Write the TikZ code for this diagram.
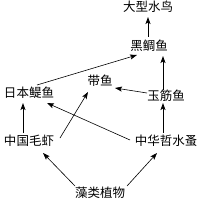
\documentclass[tikz,border=0pt]{standalone}
\usepackage{fontspec}
\newfontfamily\cjk{Noto Sans CJK SC}
\usetikzlibrary{arrows.meta,calc}
\begin{document}
\begin{tikzpicture}[x=1pt,y=-1pt,
  lbl/.style={font=\cjk\fontsize{12.5}{14}\selectfont,inner sep=0pt,text height=0.88em,text depth=0.12em,anchor=center},
  arr/.style={-{Stealth[length=7pt,width=5pt,inset=1.5pt]},line width=0.6pt},
  varr/.style={arr,line width=1pt}]
\useasboundingbox[fill=white] (0,0) rectangle (203,203);
\node[lbl] (B) at (148,8) {大型水鸟};
\node[lbl] (H) at (149,47) {黑鲷鱼};
\node[lbl] (D) at (100,82) {带鱼};
\node[lbl] (Y) at (166,97) {玉筋鱼};
\node[lbl] (R) at (29,94) {日本鳀鱼};
\node[lbl] (M) at (29,142) {中国毛虾};
\node[lbl] (S) at (166,142) {中华哲水蚤};
\node[lbl] (Z) at (100,194) {藻类植物};
\draw[varr] ($(M)+(-6,-9)$) -- ($(R)+(-6,9)$);
\draw[arr] ($(R)+(8,-9)$) -- ($(H)+(-12,8)$);
\draw[arr] ($(Y)+(-19,-4)$) -- ($(D)+(15,6)$);
\draw[varr] ($(Y)+(-3,-7)$) -- ($(H)+(14,9)$);
\draw[varr] ($(H)+(-1,-10)$) -- ($(B)+(0,9)$);
\draw[arr] ($(M)+(31,-4)$) -- ($(D)+(-12,10)$);
\draw[arr] ($(S)+(-36,-2)$) -- ($(R)+(18,9)$);
\draw[varr] ($(S)+(-3,-9)$) -- ($(Y)+(-3,6)$);
\draw[arr] ($(Z)+(-25,-8)$) -- ($(M)+(14,11)$);
\draw[arr] ($(Z)+(27,-8)$) -- ($(S)+(-9,11)$);
\end{tikzpicture}
\end{document}
